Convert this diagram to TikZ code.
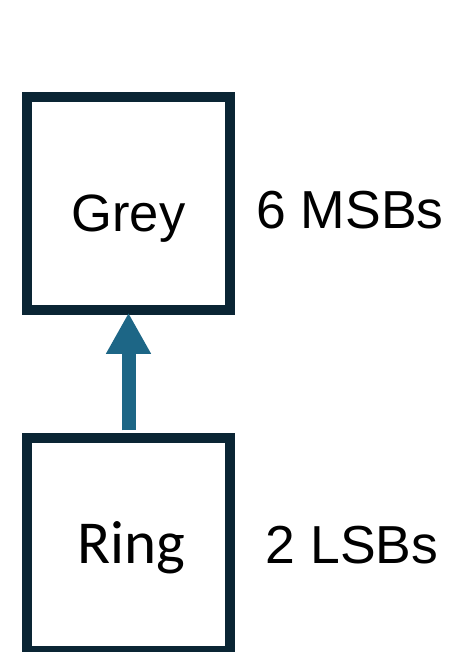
\documentclass[tikz,border=0pt]{standalone}
\usepackage{fontspec}
\setmainfont{Liberation Sans}
\newfontfamily\calib{Carlito}
\usetikzlibrary{arrows.meta}
\definecolor{boxnavy}{RGB}{10,37,52}
\definecolor{arrowteal}{RGB}{29,102,134}
\tikzset{
  regbox/.style={draw=boxnavy, line width=9.5pt, fill=white, minimum width=203pt, minimum height=213pt, inner sep=0pt},
  boxtext/.style={anchor=base, inner sep=0pt, text=black},
  sidelabel/.style={anchor=base, inner sep=0pt, text=black, font=\fontsize{53.5}{64}\selectfont},
  upflow/.style={draw=arrowteal, line width=14pt, -{Triangle[width=42pt, length=41pt]}}
}
\begin{document}
\begin{tikzpicture}[x=1pt, y=-1pt]
  \useasboundingbox (0,0) rectangle (449,652);
  \node[regbox] (grey) at (128.5,203.5) {};
  \node[regbox] (ring) at (128.5,544.5) {};
  \draw[upflow, shorten <=3pt, shorten >=-2pt] (ring.north) -- (grey.south);
  \node[boxtext, font=\fontsize{52.5}{62}\selectfont] (greytext) at (128.5,231) {Grey};
  \node[boxtext, font=\calib\fontsize{61}{70}\selectfont] (ringtext) at (131,563) {Ring};
  \node[sidelabel] (msb) at (350,228) {6 MSBs};
  \node[sidelabel] (lsb) at (352,563) {2 LSBs};
\end{tikzpicture}
\end{document}
